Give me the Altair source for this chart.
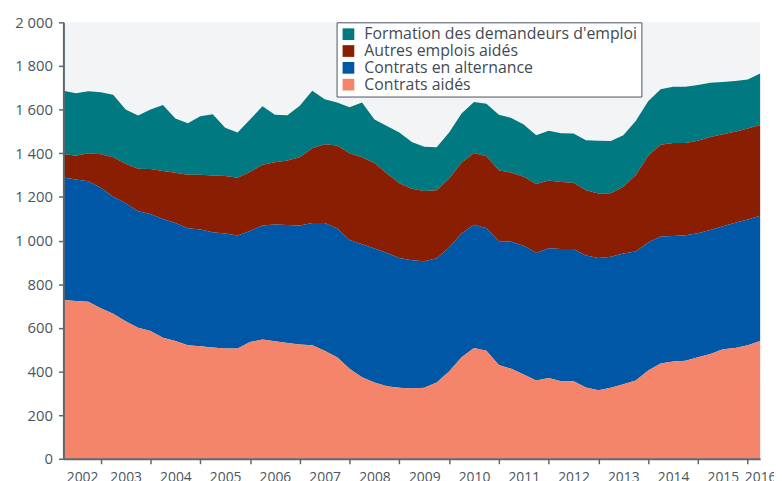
import altair as alt
import pandas as pd

# Quarter ends, 2002-T1 .. 2016-T1 (decimal year of quarter end)
periodes = pd.period_range("2002Q1", "2016Q1", freq="Q")
t = [p.year + p.quarter / 4 for p in periodes]

contrats_aides = [728, 723, 719, 690, 665, 630, 600, 585, 555, 540, 520, 516, 510, 505, 505,
                  535, 547, 538, 531, 524, 520, 495, 465, 412, 374, 349, 332, 325, 322, 325,
                  349, 400, 465, 507, 495, 430, 412, 386, 359, 370, 355, 355, 327, 314, 325,
                  341, 359, 404, 437, 446, 449, 465, 480, 502, 508, 520, 540]
alternance = [561, 557, 553, 552, 536, 541, 534, 537, 544, 540, 536, 535, 528, 527, 518,
              509, 522, 536, 540, 545, 560, 585, 591, 591, 609, 615, 611, 595, 588, 580,
              570, 568, 567, 565, 561, 567, 583, 590, 584, 595, 606, 606, 605, 606, 601,
              600, 591, 587, 581, 575, 575, 568, 568, 564, 573, 576, 574]
autres = [108, 109, 128, 153, 181, 181, 195, 206, 220, 231, 246, 251, 260, 264, 265,
          270, 278, 285, 296, 313, 343, 361, 379, 397, 399, 391, 364, 342, 327, 322,
          311, 316, 324, 329, 330, 325, 316, 316, 316, 310, 307, 304, 298, 295, 291,
          306, 349, 398, 421, 426, 423, 424, 427, 421, 418, 417, 415]
formation = [289, 286, 284, 285, 286, 248, 244, 272, 302, 248, 235, 268, 281, 221, 207,
             241, 268, 218, 207, 236, 263, 207, 198, 211, 251, 200, 218, 233, 215, 203,
             197, 211, 226, 234, 241, 255, 251, 240, 224, 228, 224, 225, 230, 242, 239,
             236, 249, 249, 254, 258, 258, 256, 248, 240, 232, 225, 236]

series = ["Formation des demandeurs d'emploi", "Autres emplois aidés",
          "Contrats en alternance", "Contrats aidés"]
couleurs = ["#007a80", "#8a1e02", "#0057a6", "#f5856a"]
valeurs = [formation, autres, alternance, contrats_aides]
rangs = [3, 2, 1, 0]

annees_ticks = list(range(2003, 2017))
annees_labels = [2002.625] + [y + 0.5 for y in range(2003, 2016)] + [2016.25]
y_ticks = list(range(0, 2001, 200))

rows = []
for nom, vals, r in zip(series, valeurs, rangs):
    for ti, v in zip(t, vals):
        rows.append({"t": ti, "serie": nom, "valeur": v, "rang": r})
df = pd.DataFrame(rows)

xscale = alt.Scale(domain=[t[0], t[-1]], nice=False, zero=False)
yscale = alt.Scale(domain=[0, 2000], nice=False)
yaxis = alt.Axis(values=y_ticks,
                 labelExpr="replace(format(datum.value, ',d'), ',', ' ')",
                 title=None, grid=False, tickSize=5, labelPadding=6, labelFontSize=15,
                 zindex=1)

base = alt.Chart(df)

areas = base.mark_area().encode(
    x=alt.X("t:Q", scale=xscale,
            axis=alt.Axis(values=annees_labels, labelExpr="'' + floor(datum.value)",
                          ticks=False, domain=True, labelFlush=False, labelOverlap=False,
                          labelPadding=12, orient="bottom", title=None, grid=False, zindex=1)),
    y=alt.Y("valeur:Q", stack="zero", scale=yscale, axis=yaxis),
    color=alt.Color("serie:N", scale=alt.Scale(domain=series, range=couleurs),
                    legend=alt.Legend(title=None, orient="none", legendX=276, legendY=0,
                                      symbolType="square", symbolSize=140, symbolStrokeWidth=0,
                                      labelFontSize=16, labelFont="Open Sans",
                                      labelColor="#3f4a55", fillColor="white",
                                      strokeColor="#4a5561", padding=4, rowPadding=1,
                                      labelOffset=8, labelLimit=400)),
    order=alt.Order("rang:Q", sort="ascending"),
)

ticks_layer = base.mark_area(opacity=0).encode(
    x=alt.X("t:Q", scale=xscale,
            axis=alt.Axis(values=annees_ticks, labels=False, ticks=True, domain=False,
                          tickSize=5, orient="bottom", title=None, grid=False, zindex=1)),
    y=alt.Y("valeur:Q", stack="zero", scale=yscale, axis=yaxis),
    detail="serie:N",
    order=alt.Order("rang:Q", sort="ascending"),
)

chart = alt.layer(areas, ticks_layer).resolve_axis(x="independent").properties(
    width=704, height=441,
    autosize=alt.AutoSizeParams(type="none"),
    padding={"left": 56, "top": 12, "right": 14, "bottom": 20},
).configure_view(fill="#f3f4f6", stroke=None).configure_axis(
    labelFont="Open Sans", labelFontSize=14, labelColor="#4a5561",
    domainColor="#5c6670", domainWidth=2, tickColor="#5c6670", tickWidth=1.5,
)

chart.save("out.html", embed_options={"renderer": "svg", "actions": False})
